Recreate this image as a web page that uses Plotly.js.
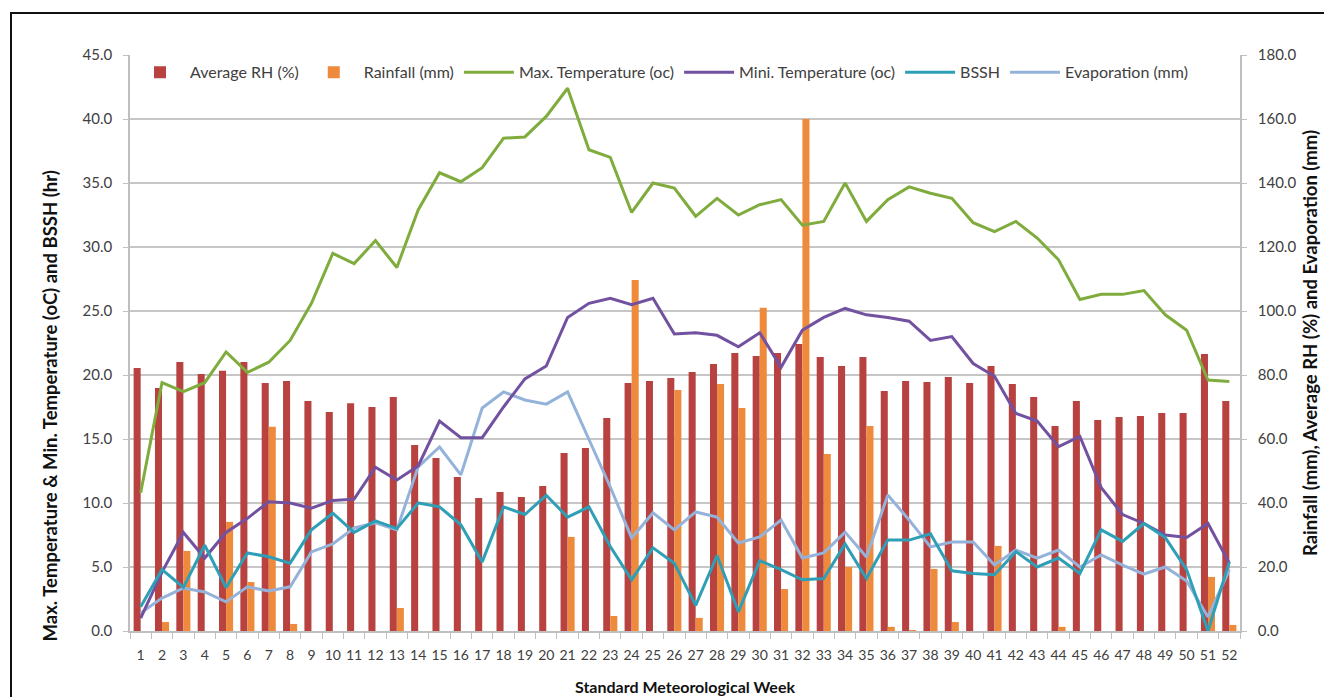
<!DOCTYPE html>
<html>
<head>
<meta charset="utf-8">
<script src="https://cdn.plot.ly/plotly-3.0.1.min.js"></script>
<style>
  html, body { margin: 0; padding: 0; background: #fff; overflow: hidden; }
  #chart { position: absolute; left: 0; top: 0; width: 1324px; height: 697px; }
  #frame { position: absolute; left: 10px; top: 12px; width: 1400px; height: 800px;
           border-left: 2px solid #111; border-top: 2px solid #111; pointer-events: none; }
</style>
</head>
<body>
<div id="chart"></div>
<div id="frame"></div>
<script>
const weeks = [1,2,3,4,5,6,7,8,9,10,11,12,13,14,15,16,17,18,19,20,21,22,23,24,25,26,27,28,29,30,31,32,33,34,35,36,37,38,39,40,41,42,43,44,45,46,47,48,49,50,51,52];

const avgRH = [82.2,75.9,84.1,80.3,81.3,84.1,77.5,78.1,71.9,68.4,
               71.2,70.0,73.1,58.1,54.1,48.1,41.6,43.4,41.9,45.3,
               55.6,57.2,66.6,77.5,78.1,79.1,80.9,83.4,86.9,85.9,
               86.9,89.7,85.6,82.8,85.6,75.0,78.1,77.8,79.4,77.5,
               82.8,77.2,73.1,64.1,71.9,65.9,66.9,67.2,68.1,68.1,
               86.6,71.9];

const rainfall = [0,2.8,25.0,0,34.1,15.3,63.8,2.2,0,0,
                  0,0,7.2,0,0,0,0,0,0,0,
                  29.4,0,4.7,109.7,0,75.3,4.1,77.2,69.7,101.0,
                  13.1,160.0,55.3,20.0,64.1,1.3,0.3,19.4,2.8,0,
                  26.6,0,0,1.3,0,0,0,0,0,0,
                  16.9,1.9];

const maxTemp = [10.8,19.4,18.7,19.4,21.8,20.2,21.0,22.7,25.6,29.5,
                 28.7,30.5,28.4,32.9,35.8,35.1,36.2,38.5,38.6,40.2,
                 42.4,37.6,37.0,32.7,35.0,34.6,32.4,33.8,32.5,33.3,
                 33.7,31.7,32.0,35.0,32.0,33.7,34.7,34.2,33.8,31.9,
                 31.2,32.0,30.7,29.0,25.9,26.3,26.3,26.6,24.7,23.5,
                 19.6,19.5];

const minTemp = [1.0,4.6,7.7,5.7,7.7,8.8,10.1,10.0,9.6,10.2,
                 10.3,12.8,11.8,12.9,16.4,15.1,15.1,17.5,19.7,20.7,
                 24.5,25.6,26.0,25.5,26.0,23.2,23.3,23.1,22.2,23.3,
                 20.6,23.5,24.5,25.2,24.7,24.5,24.2,22.7,23.0,20.9,
                 19.9,17.0,16.4,14.4,15.2,11.2,9.1,8.4,7.5,7.3,
                 8.4,5.3];

const bssh = [1.9,4.8,3.4,6.7,3.4,6.1,5.8,5.3,7.9,9.2,
              7.7,8.6,8.0,10.0,9.7,8.3,5.4,9.7,9.1,10.6,
              8.9,9.7,6.6,4.0,6.5,5.3,2.0,5.9,1.5,5.5,
              4.8,4.0,4.1,6.8,4.1,7.1,7.1,7.6,4.7,4.5,
              4.4,6.2,5.0,5.7,4.5,7.9,7.0,8.4,7.3,4.8,
              0.0,5.4];

const evaporation = [5.6,10.3,13.4,12.2,9.1,13.8,12.5,13.8,24.7,27.2,
                     32.2,33.8,31.6,51.3,57.5,48.8,69.7,74.7,72.2,70.9,
                     74.7,59.7,45.0,29.1,36.9,31.6,37.2,35.6,27.5,29.4,
                     34.7,22.8,24.4,30.9,23.1,42.5,34.7,26.3,27.8,27.8,
                     20.6,25.3,22.8,25.3,20.0,23.8,20.6,17.8,20.0,15.6,
                     4.4,19.1];

const seriesNames = ["Average RH (%)", "Rainfall (mm)", "Max. Temperature (oc)",
                     "Mini. Temperature (oc)", "BSSH", "Evaporation (mm)"];
const leftTitle = "Max. Temperature & Min. Temperature (oC) and BSSH (hr)";
const rightTitle = "Rainfall (mm), Average RH (%) and Evaporation (mm)";
const xTitle = "Standard Meteorological Week";

const FONT = "Lato, 'Open Sans', 'Noto Sans', sans-serif";
const xcat = weeks.map(String);

const traces = [
  { type: 'bar', name: seriesNames[0], x: xcat, y: avgRH, xaxis: 'x', yaxis: 'y',
    marker: { color: '#B7423F' }, hoverinfo: 'x+y' },
  { type: 'bar', name: seriesNames[1], x: xcat, y: rainfall, xaxis: 'x', yaxis: 'y',
    marker: { color: '#EE8A3C' }, hoverinfo: 'x+y' },
  { type: 'scatter', mode: 'lines', name: seriesNames[2], x: xcat, y: maxTemp, xaxis: 'x', yaxis: 'y2',
    line: { color: '#7FAC3D', width: 3 } },
  { type: 'scatter', mode: 'lines', name: seriesNames[3], x: xcat, y: minTemp, xaxis: 'x', yaxis: 'y2',
    line: { color: '#7251A0', width: 3 } },
  { type: 'scatter', mode: 'lines', name: seriesNames[4], x: xcat, y: bssh, xaxis: 'x', yaxis: 'y2',
    line: { color: '#2E9FB6', width: 3 } },
  { type: 'scatter', mode: 'lines', name: seriesNames[5], x: xcat, y: evaporation, xaxis: 'x', yaxis: 'y',
    line: { color: '#95B3DA', width: 3 } }
];

const layout = {
  width: 1324, height: 697,
  margin: { l: 130, r: 84, t: 55, b: 66, pad: 0 },
  paper_bgcolor: '#fff', plot_bgcolor: '#fff',
  font: { family: FONT, size: 15, color: '#404040' },
  barmode: 'group', bargap: 0.34, bargroupgap: 0,
  showlegend: true,
  legend: { orientation: 'h', x: 0.0, xanchor: 'left', y: 0.97, yanchor: 'middle',
            itemwidth: 50,
            bgcolor: 'rgba(0,0,0,0)', font: { family: FONT, size: 16, color: '#404040' },
            traceorder: 'normal' },
  xaxis: {
    type: 'category', tickson: 'boundaries', ticks: 'outside', ticklen: 6,
    tickcolor: '#BFBFBF', showline: true, linecolor: '#BFBFBF', linewidth: 1.5,
    showgrid: false, tickangle: 0, tickfont: { family: FONT, size: 14, color: '#404040' },
    ticklabelstandoff: 10,
    title: { text: xTitle, font: { family: FONT, size: 16, color: '#111', weight: 'bold' }, standoff: 20 }
  },
  yaxis: {
    side: 'right', range: [0, 180], dtick: 20, tick0: 0, tickformat: '.1f',
    showgrid: true, gridcolor: '#C6C6C6', gridwidth: 1.5, zeroline: false,
    showline: true, linecolor: '#BFBFBF', linewidth: 1.5,
    ticks: 'outside', ticklen: 5, tickcolor: '#BFBFBF',
    ticklabelstandoff: 8,
    tickfont: { family: FONT, size: 15, color: '#404040' },
    title: { text: rightTitle, font: { family: FONT, size: 18.5, color: '#111', weight: 'bold' }, standoff: 9 }
  },
  yaxis2: {
    overlaying: 'y', side: 'left', range: [0, 45], dtick: 5, tick0: 0, tickformat: '.1f',
    showgrid: false, zeroline: false,
    showline: true, linecolor: '#BFBFBF', linewidth: 1.5,
    ticks: 'outside', ticklen: 5, tickcolor: '#BFBFBF',
    ticklabelstandoff: 8,
    tickfont: { family: FONT, size: 15, color: '#404040' }
  },
  annotations: [
    { text: leftTitle, xref: 'paper', yref: 'paper', x: -0.072, y: 0.39,
      xanchor: 'center', yanchor: 'middle', textangle: -90, showarrow: false,
      font: { family: FONT, size: 18.5, color: '#111', weight: 'bold' } }
  ]
};

Plotly.newPlot('chart', traces, layout, { displayModeBar: false, staticPlot: false });
</script>
</body>
</html>
